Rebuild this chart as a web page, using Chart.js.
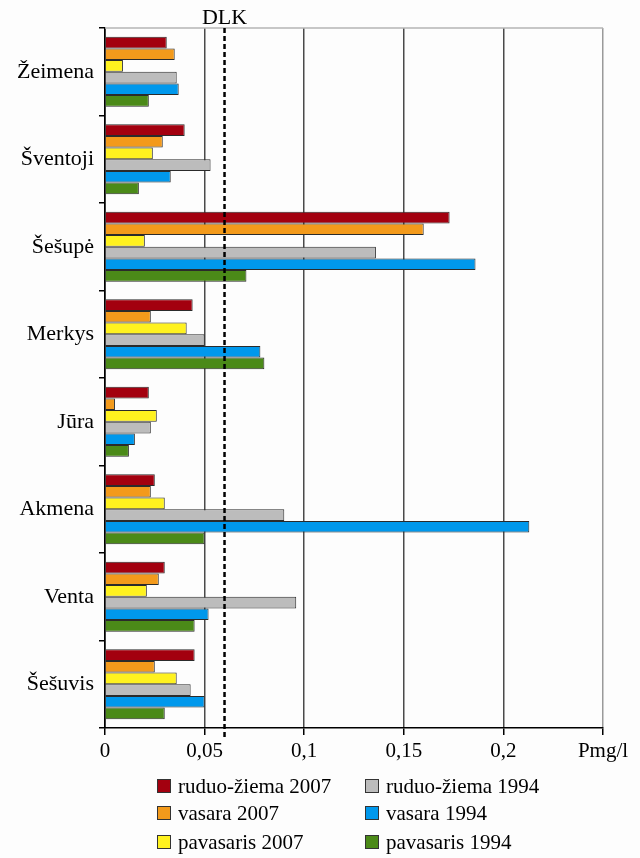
<!DOCTYPE html>
<html>
<head>
<meta charset="utf-8">
<script src="https://cdn.jsdelivr.net/npm/chart.js@4"></script>
<style>
  html, body { margin: 0; padding: 0; background: #fdfdfd; }
  #wrap { width: 640px; height: 858px; position: relative; }
</style>
</head>
<body>
<div id="wrap"><canvas id="c" width="640" height="858"></canvas></div>
<script>
// Rivers (categories, top to bottom)
const rivers = ['Žeimena', 'Šventoji', 'Šešupė', 'Merkys', 'Jūra', 'Akmena', 'Venta', 'Šešuvis'];

// Phosphorus concentration, mg/l, per season and year
const ruduoZiema2007 = [0.031, 0.040, 0.173, 0.044, 0.022, 0.025, 0.030, 0.045];
const vasara2007     = [0.035, 0.029, 0.160, 0.023, 0.005, 0.023, 0.027, 0.025];
const pavasaris2007  = [0.009, 0.024, 0.020, 0.041, 0.026, 0.030, 0.021, 0.036];
const ruduoZiema1994 = [0.036, 0.053, 0.136, 0.050, 0.023, 0.090, 0.096, 0.043];
const vasara1994     = [0.037, 0.033, 0.186, 0.078, 0.015, 0.213, 0.052, 0.050];
const pavasaris1994  = [0.022, 0.017, 0.071, 0.080, 0.012, 0.050, 0.045, 0.030];

const seriesLabels = ['ruduo-žiema 2007', 'vasara 2007', 'pavasaris 2007',
                      'ruduo-žiema 1994', 'vasara 1994', 'pavasaris 1994'];
const seriesColors = ['#a3000f', '#f39a1b', '#fff21f', '#bcbcbc', '#0098ec', '#4b8a18'];

// Permissible concentration (DLK)
const DLK = 0.06;

// x-axis ticks
const xTickValues = [0, 0.05, 0.1, 0.15, 0.2, 0.25];
const xTickLabels = ['0', '0,05', '0,1', '0,15', '0,2', 'Pmg/l'];

const serif = '"Liberation Serif", "Times New Roman", serif';

const seriesValues = [ruduoZiema2007, vasara2007, pavasaris2007, ruduoZiema1994, vasara1994, pavasaris1994];

const datasets = seriesValues.map((vals, i) => ({
  label: seriesLabels[i],
  data: vals,
  backgroundColor: seriesColors[i],
  borderColor: '#2b2b2b',
  borderWidth: 1,
  categoryPercentage: 0.8,
  barPercentage: 1.0
}));

// Top frame line, DLK dashed line and its label
const dlkPlugin = {
  id: 'dlkLine',
  afterDatasetsDraw(chart) {
    const { ctx, chartArea, scales } = chart;
    const x = scales.x.getPixelForValue(DLK);
    ctx.save();
    ctx.strokeStyle = '#b5b5b5';
    ctx.lineWidth = 1.5;
    ctx.beginPath();
    ctx.moveTo(chartArea.left, chartArea.top);
    ctx.lineTo(chartArea.right, chartArea.top);
    ctx.stroke();

    ctx.strokeStyle = '#000';
    ctx.lineWidth = 2.5;
    ctx.setLineDash([5, 3]);
    ctx.beginPath();
    ctx.moveTo(x, chartArea.top);
    ctx.lineTo(x, chartArea.bottom + 10);
    ctx.stroke();
    ctx.setLineDash([]);

    ctx.fillStyle = '#000';
    ctx.font = '22px ' + serif;
    ctx.textAlign = 'center';
    ctx.textBaseline = 'middle';
    ctx.fillText('DLK', x, chartArea.top - 10);
    ctx.restore();
  }
};

// Two-column legend below the axis
const legendPlugin = {
  id: 'twoColLegend',
  afterDraw(chart) {
    const { ctx } = chart;
    const cols = [157, 365];
    const rows = [786, 813, 842];
    const box = 14;
    ctx.save();
    ctx.font = '21px ' + serif;
    ctx.textBaseline = 'middle';
    ctx.textAlign = 'left';
    chart.data.datasets.forEach((ds, i) => {
      const col = Math.floor(i / 3);
      const row = i % 3;
      const bx = cols[col];
      const by = rows[row] - box / 2;
      ctx.fillStyle = ds.backgroundColor;
      ctx.fillRect(bx, by, box, box);
      ctx.strokeStyle = '#333';
      ctx.lineWidth = 1;
      ctx.strokeRect(bx + 0.5, by + 0.5, box - 1, box - 1);
      ctx.fillStyle = '#000';
      ctx.fillText(ds.label, bx + box + 7, rows[row] + 1);
    });
    ctx.restore();
  }
};

new Chart(document.getElementById('c'), {
  type: 'bar',
  data: { labels: rivers, datasets },
  plugins: [dlkPlugin, legendPlugin],
  options: {
    indexAxis: 'y',
    responsive: false,
    animation: false,
    layout: { padding: { top: 28, right: 37, bottom: 90, left: 0 } },
    plugins: {
      legend: { display: false },
      tooltip: { enabled: false }
    },
    scales: {
      x: {
        type: 'linear',
        min: 0,
        max: 0.25,
        afterBuildTicks(scale) {
          scale.ticks = xTickValues.map(v => ({ value: v }));
        },
        afterFit(scale) { scale.height = 40; },
        ticks: {
          autoSkip: false,
          maxRotation: 0,
          padding: 4,
          color: '#000',
          font: { family: serif, size: 21 },
          callback(value) {
            const idx = xTickValues.findIndex(v => Math.abs(v - value) < 1e-9);
            return idx >= 0 ? xTickLabels[idx] : '';
          }
        },
        grid: {
          drawOnChartArea: true,
          drawTicks: true,
          tickLength: 7,
          tickColor: '#000',
          lineWidth: 1.5,
          color(ctx) {
            const v = ctx.tick ? ctx.tick.value : null;
            if (v === 0) return '#000';
            if (v !== null && Math.abs(v - 0.25) < 1e-9) return '#9a9a9a';
            return '#4a4a4a';
          }
        },
        border: { display: true, color: '#000', width: 1.5 }
      },
      y: {
        type: 'category',
        offset: true,
        afterFit(scale) { scale.width = 105; },
        ticks: {
          padding: 5,
          color: '#000',
          font: { family: serif, size: 22 }
        },
        grid: {
          offset: true,
          drawOnChartArea: false,
          drawTicks: true,
          tickLength: 6,
          tickColor: '#000',
          lineWidth: 1.5
        },
        border: { display: true, color: '#000', width: 1.5 }
      }
    }
  }
});
</script>
</body>
</html>
